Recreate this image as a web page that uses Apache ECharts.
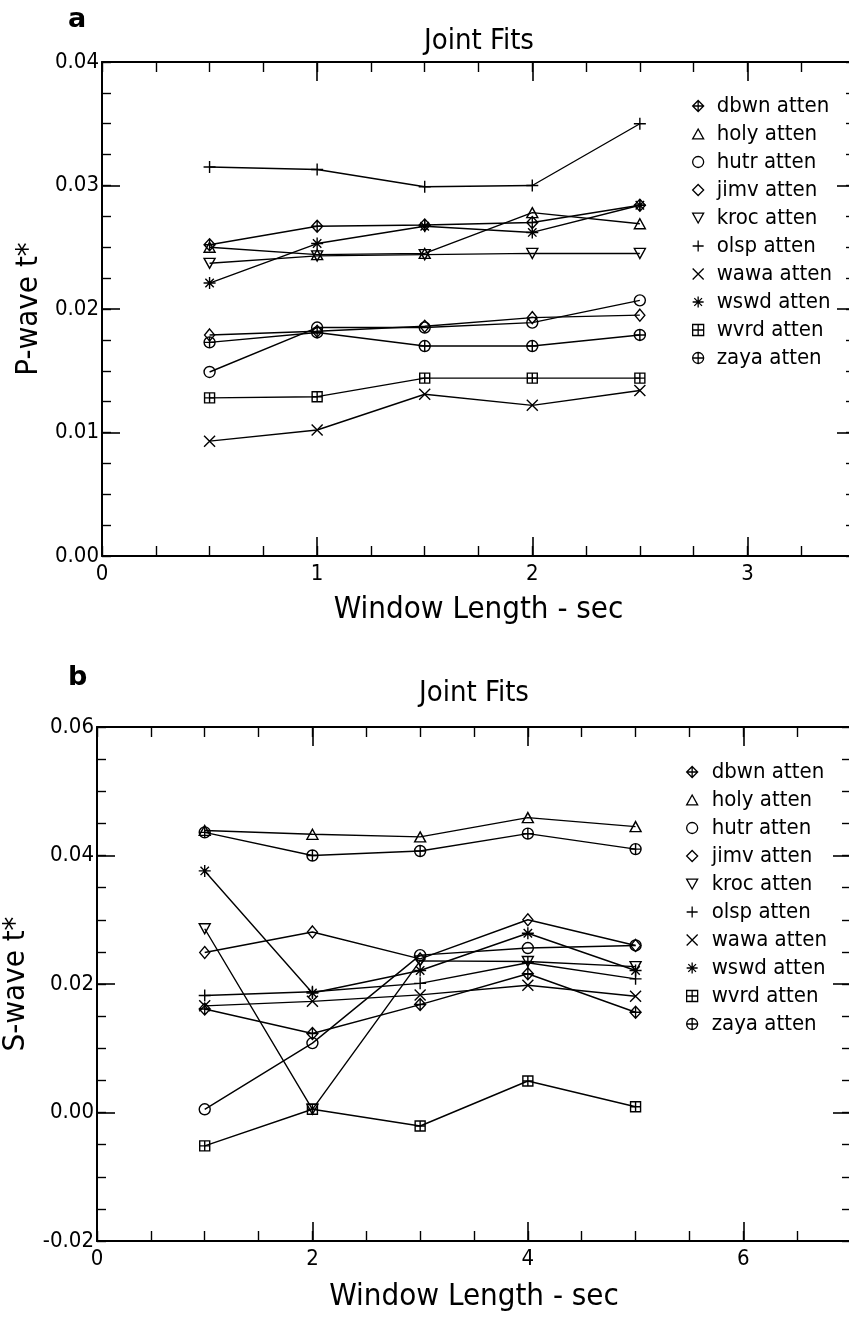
<!DOCTYPE html>
<html><head><meta charset="utf-8">
<script src="https://cdn.jsdelivr.net/npm/echarts@6/dist/echarts.min.js"></script>
<style>html,body{margin:0;padding:0;background:#fff}#c{width:849px;height:1318px}</style>
</head><body><div id="c"></div>
<script>
// ---- data ----
const stations = ['dbwn','holy','hutr','jimv','kroc','olsp','wawa','wswd','wvrd','zaya'];
const pWindow = [0.5, 1, 1.5, 2, 2.5];
const sWindow = [1, 2, 3, 4, 5];
// P-wave t* (panel a)
const pDbwn = [0.0252, 0.0267, 0.0268, 0.0270, 0.0284];
const pHoly = [0.0250, 0.0244, 0.0245, 0.0278, 0.0269];
const pHutr = [0.0149, 0.0185, 0.0185, 0.0189, 0.0207];
const pJimv = [0.0179, 0.0182, 0.0186, 0.0193, 0.0195];
const pKroc = [0.0237, 0.0243, 0.0244, 0.0245, 0.0245];
const pOlsp = [0.0315, 0.0313, 0.0299, 0.0300, 0.0350];
const pWawa = [0.0093, 0.0102, 0.0131, 0.0122, 0.0134];
const pWswd = [0.0221, 0.0253, 0.0267, 0.0262, 0.0284];
const pWvrd = [0.0128, 0.0129, 0.0144, 0.0144, 0.0144];
const pZaya = [0.0173, 0.0181, 0.0170, 0.0170, 0.0179];
// S-wave t* (panel b)
const sDbwn = [0.0161, 0.0123, 0.0168, 0.0216, 0.0156];
const sHoly = [0.0439, 0.0433, 0.0429, 0.0459, 0.0445];
const sHutr = [0.0005, 0.0108, 0.0245, 0.0256, 0.0260];
const sJimv = [0.0249, 0.0281, 0.0239, 0.0300, 0.0260];
const sKroc = [0.0286, 0.0005, 0.0236, 0.0235, 0.0227];
const sOlsp = [0.0182, 0.0188, 0.0201, 0.0233, 0.0208];
const sWawa = [0.0166, 0.0173, 0.0183, 0.0198, 0.0181];
const sWswd = [0.0376, 0.0186, 0.0221, 0.0279, 0.0221];
const sWvrd = [-0.0052, 0.0005, -0.0021, 0.0049, 0.0009];
const sZaya = [0.0436, 0.0400, 0.0407, 0.0434, 0.0410];
// axis ticks
const pYTicks = {min: 0, max: 0.04, major: 0.01, minor: 0.0025};
const pXTicks = {min: 0, max: 3.5, major: 1, minor: 0.25};
const sYTicks = {min: -0.02, max: 0.06, major: 0.02, minor: 0.005};
const sXTicks = {min: 0, max: 7, major: 2, minor: 0.5};

const P = {dbwn:pDbwn, holy:pHoly, hutr:pHutr, jimv:pJimv, kroc:pKroc, olsp:pOlsp, wawa:pWawa, wswd:pWswd, wvrd:pWvrd, zaya:pZaya};
const S = {dbwn:sDbwn, holy:sHoly, hutr:sHutr, jimv:sJimv, kroc:sKroc, olsp:sOlsp, wawa:sWawa, wswd:sWswd, wvrd:sWvrd, zaya:sZaya};

const CIRC = 'M0 10 A10 10 0 1 0 20 10 A10 10 0 1 0 0 10 Z';
const SYM = {
  dbwn: 'path://M10 0 L20 10 L10 20 L0 10 Z M10 0 L10 20 M0 10 L20 10',
  holy: 'path://M10 0 L20 18 L0 18 Z',
  hutr: 'path://' + CIRC,
  jimv: 'path://M10 0 L20 10 L10 20 L0 10 Z',
  kroc: 'path://M0 0 L20 0 L10 18 Z',
  olsp: 'path://M10 0 L10 20 M0 10 L20 10',
  wawa: 'path://M0 0 L20 20 M20 0 L0 20',
  wswd: 'path://M10 0 L10 20 M0 10 L20 10 M3 3 L17 17 M17 3 L3 17',
  wvrd: 'path://M0 0 L20 0 L20 20 L0 20 Z M10 0 L10 20 M0 10 L20 10',
  zaya: 'path://' + CIRC + ' M10 0 L10 20 M0 10 L20 10'
};
const SIZE = {dbwn:[11,12], holy:[11,10], hutr:[11,11], jimv:[10,12], kroc:[11,10], olsp:[12,12], wawa:[11,11], wswd:[12,12], wvrd:[10,10], zaya:[11,11]};

const FONT = "'DejaVu Sans Condensed','Liberation Sans Narrow','DejaVu Sans',sans-serif";
const BLACK = '#000';

function xAxes(grid, t, pos, name, nameGap) {
  const base = {gridIndex: grid, type: 'value', position: pos, min: t.min, max: t.max,
    splitLine: {show: false}, axisPointer: {show: false}};
  const major = Object.assign({}, base, {
    interval: t.major,
    axisLine: {show: true, onZero: false, lineStyle: {color: BLACK, width: 2}},
    axisTick: {show: true, inside: true, length: 19, lineStyle: {color: BLACK, width: 1.6}},
    axisLabel: {show: pos === 'bottom', margin: 7, color: BLACK, fontFamily: FONT, fontSize: 22,
      showMaxLabel: false, formatter: v => String(Math.round(v))}
  });
  if (pos === 'bottom') {
    Object.assign(major, {name: name, nameLocation: 'middle', nameGap: nameGap,
      nameTextStyle: {color: BLACK, fontFamily: FONT, fontSize: 31}});
  }
  const minor = Object.assign({}, base, {
    interval: t.minor,
    axisLine: {show: false, onZero: false},
    axisTick: {show: true, inside: true, length: 10, lineStyle: {color: BLACK, width: 1.4}},
    axisLabel: {show: false}
  });
  return [major, minor];
}
function yAxes(grid, t, pos, name) {
  const base = {gridIndex: grid, type: 'value', position: pos, min: t.min, max: t.max,
    splitLine: {show: false}, axisPointer: {show: false}};
  const major = Object.assign({}, base, {
    interval: t.major,
    axisLine: {show: true, onZero: false, lineStyle: {color: BLACK, width: 2}},
    axisTick: {show: true, inside: true, length: 18, lineStyle: {color: BLACK, width: 1.6}},
    axisLabel: {show: pos === 'left', margin: 3, color: BLACK, fontFamily: FONT, fontSize: 22,
      formatter: v => v.toFixed(2)}
  });
  if (pos === 'left') {
    Object.assign(major, {name: name, nameLocation: 'middle', nameGap: 58, nameRotate: 90,
      nameTextStyle: {color: BLACK, fontFamily: FONT, fontSize: 31}});
  }
  const minor = Object.assign({}, base, {
    interval: t.minor,
    axisLine: {show: false, onZero: false},
    axisTick: {show: true, inside: true, length: 9, lineStyle: {color: BLACK, width: 1.4}},
    axisLabel: {show: false}
  });
  return [major, minor];
}

const xAxis = [].concat(
  xAxes(0, pXTicks, 'bottom', 'Window Length - sec', 38),
  xAxes(0, pXTicks, 'top'),
  xAxes(1, sXTicks, 'bottom', 'Window Length - sec', 40),
  xAxes(1, sXTicks, 'top')
);
const yAxis = [].concat(
  yAxes(0, pYTicks, 'left', 'P-wave t*'),
  yAxes(0, pYTicks, 'right'),
  yAxes(1, sYTicks, 'left', 'S-wave t*'),
  yAxes(1, sYTicks, 'right')
);

const series = [];
stations.forEach(st => {
  series.push({
    type: 'line', name: st + ' atten', xAxisIndex: 0, yAxisIndex: 0,
    data: pWindow.map((x, i) => [x, P[st][i]]),
    symbol: SYM[st], symbolSize: SIZE[st], showAllSymbol: true,
    lineStyle: {color: BLACK, width: 1.4},
    itemStyle: {color: 'rgba(0,0,0,0)', borderColor: BLACK, borderWidth: 1.4},
    emphasis: {disabled: true}, silent: true, animation: false
  });
  series.push({
    type: 'line', name: st + ' atten', xAxisIndex: 4, yAxisIndex: 4,
    data: sWindow.map((x, i) => [x, S[st][i]]),
    symbol: SYM[st], symbolSize: SIZE[st], showAllSymbol: true,
    lineStyle: {color: BLACK, width: 1.4},
    itemStyle: {color: 'rgba(0,0,0,0)', borderColor: BLACK, borderWidth: 1.4},
    emphasis: {disabled: true}, silent: true, animation: false
  });
});

function legend(left, top, pad) {
  return {
    orient: 'vertical', left: left, top: top, padding: 0,
    itemWidth: 11, itemHeight: 11, itemGap: 6, selectedMode: false,
    itemStyle: {color: 'rgba(0,0,0,0)', borderColor: BLACK, borderWidth: 1.3},
    textStyle: {color: BLACK, fontFamily: FONT, fontSize: 22, lineHeight: 22, padding: [0, 0, 0, pad]},
    data: stations.map(st => ({name: st + ' atten', icon: SYM[st]}))
  };
}

const titleStyle = {color: BLACK, fontFamily: FONT, fontSize: 29, fontWeight: 'normal'};
const letterStyle = {color: BLACK, fontFamily: "'DejaVu Sans',sans-serif", fontSize: 27, fontWeight: 'bold'};

const option = {
  backgroundColor: '#fff',
  animation: false,
  title: [
    {text: 'a', left: 68, top: 6, padding: 0, textStyle: letterStyle},
    {text: 'Joint Fits', left: 479, top: 27, padding: 0, textAlign: 'center', textStyle: titleStyle},
    {text: 'b', left: 68, top: 664, padding: 0, textStyle: letterStyle},
    {text: 'Joint Fits', left: 474, top: 679, padding: 0, textAlign: 'center', textStyle: titleStyle}
  ],
  legend: [legend(692, 95, 8), legend(686, 761, 9)],
  grid: [
    {left: 102, top: 62, width: 753, height: 494, outerBoundsMode: 'none', containLabel: false},
    {left: 97, top: 727, width: 754, height: 514, outerBoundsMode: 'none', containLabel: false}
  ],
  xAxis: xAxis,
  yAxis: yAxis,
  series: series
};

const chart = echarts.init(document.getElementById('c'), null, {renderer: 'canvas', width: 849, height: 1318});
chart.setOption(option);
</script>
</body></html>
